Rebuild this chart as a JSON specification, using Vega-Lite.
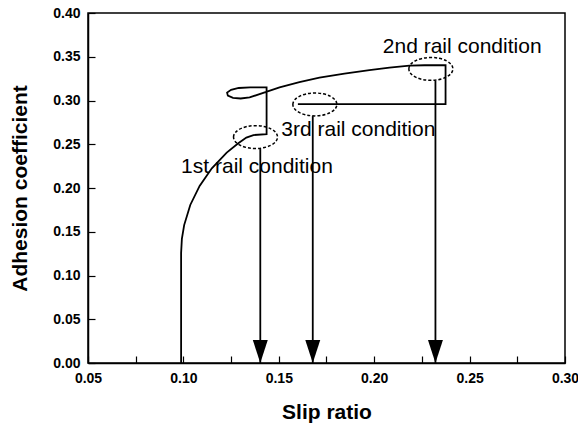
{
  "$schema": "https://vega.github.io/schema/vega-lite/v6.json",
  "autosize": "none",
  "padding": {"left": 88, "top": 13, "right": 13, "bottom": 63},
  "width": 477,
  "height": 350,
  "background": "white",
  "config": {
    "view": {"stroke": "black", "strokeWidth": 1.5},
    "font": "Liberation Sans",
    "axis": {
      "zindex": 1,
      "domainColor": "black",
      "domainWidth": 1.5,
      "ticks": true,
      "tickColor": "black",
      "tickWidth": 1.2,
      "tickSize": -7,
      "grid": false,
      "labelFont": "Liberation Sans",
      "labelFontWeight": "bold",
      "labelFontSize": 14,
      "labelColor": "black",
      "labelPadding": 15,
      "titleFont": "Liberation Sans",
      "titleFontWeight": "bold",
      "titleFontSize": 21,
      "titleColor": "black"
    }
  },
  "datasets": {
    "curve": [
      {"order": 1, "slip": 0.0988, "adh": 0.0},
      {"order": 2, "slip": 0.0988, "adh": 0.1258},
      {"order": 3, "slip": 0.0992, "adh": 0.1418},
      {"order": 4, "slip": 0.1004, "adh": 0.1576},
      {"order": 5, "slip": 0.1036, "adh": 0.1806},
      {"order": 6, "slip": 0.1085, "adh": 0.2024},
      {"order": 7, "slip": 0.1149, "adh": 0.2225},
      {"order": 8, "slip": 0.1227, "adh": 0.2404},
      {"order": 9, "slip": 0.1286, "adh": 0.2509},
      {"order": 10, "slip": 0.1330, "adh": 0.2576},
      {"order": 11, "slip": 0.1367, "adh": 0.2605},
      {"order": 12, "slip": 0.1436, "adh": 0.2616},
      {"order": 13, "slip": 0.1436, "adh": 0.3149},
      {"order": 14, "slip": 0.1350, "adh": 0.3150},
      {"order": 15, "slip": 0.1290, "adh": 0.3143},
      {"order": 16, "slip": 0.1250, "adh": 0.3122},
      {"order": 17, "slip": 0.1229, "adh": 0.3090},
      {"order": 18, "slip": 0.1233, "adh": 0.3055},
      {"order": 19, "slip": 0.1260, "adh": 0.3030},
      {"order": 20, "slip": 0.1300, "adh": 0.3023},
      {"order": 21, "slip": 0.1347, "adh": 0.3035},
      {"order": 22, "slip": 0.1434, "adh": 0.3099},
      {"order": 23, "slip": 0.1504, "adh": 0.3149},
      {"order": 24, "slip": 0.1608, "adh": 0.3209},
      {"order": 25, "slip": 0.1713, "adh": 0.3261},
      {"order": 26, "slip": 0.1844, "adh": 0.3306},
      {"order": 27, "slip": 0.1975, "adh": 0.3346},
      {"order": 28, "slip": 0.2080, "adh": 0.3375},
      {"order": 29, "slip": 0.2185, "adh": 0.3398},
      {"order": 30, "slip": 0.2264, "adh": 0.3403},
      {"order": 31, "slip": 0.2374, "adh": 0.3403},
      {"order": 32, "slip": 0.2374, "adh": 0.2958},
      {"order": 33, "slip": 0.1600, "adh": 0.2958}
    ],
    "arrows": [
      {"slip": 0.1403, "top": 0.2445, "tip": 0.0},
      {"slip": 0.1678, "top": 0.2822, "tip": 0.0},
      {"slip": 0.2321, "top": 0.3224, "tip": 0.0}
    ],
    "ellipses": [
      {"slip": 0.1378, "adh": 0.2582},
      {"slip": 0.2297, "adh": 0.3361},
      {"slip": 0.1689, "adh": 0.2955}
    ],
    "labels": [
      {"slip": 0.2045, "adh": 0.3548, "text": "2nd rail condition"},
      {"slip": 0.1513, "adh": 0.2597, "text": "3rd rail condition"},
      {"slip": 0.0988, "adh": 0.2175, "text": "1st rail condition"}
    ]
  },
  "layer": [
    {
      "data": {"name": "curve"},
      "mark": {"type": "line", "color": "black", "strokeWidth": 1.8, "interpolate": "linear"},
      "encoding": {
        "x": {
          "field": "slip", "type": "quantitative",
          "scale": {"domain": [0.05, 0.3], "nice": false, "zero": false},
          "axis": {
            "title": "Slip ratio",
            "values": [0.05, 0.075, 0.1, 0.125, 0.15, 0.175, 0.2, 0.225, 0.25, 0.275, 0.3],
            "labelExpr": "abs(datum.value*20 - round(datum.value*20)) < 0.001 ? format(datum.value, '.2f') : ''",
            "labelFlush": false,
            "titleY": 55,
            "titleBaseline": "alphabetic"
          }
        },
        "y": {
          "field": "adh", "type": "quantitative",
          "scale": {"domain": [0, 0.4], "nice": false},
          "axis": {
            "title": "Adhesion coefficient",
            "values": [0, 0.025, 0.05, 0.075, 0.1, 0.125, 0.15, 0.175, 0.2, 0.225, 0.25, 0.275, 0.3, 0.325, 0.35, 0.375, 0.4],
            "labelExpr": "abs(datum.value*20 - round(datum.value*20)) < 0.001 ? format(datum.value, '.2f') : ''",
            "labelFlush": false,
            "titleX": -68,
            "titleY": 175,
            "titleBaseline": "middle"
          }
        },
        "order": {"field": "order", "type": "quantitative"}
      }
    },
    {
      "data": {"name": "arrows"},
      "mark": {"type": "rule", "color": "black", "strokeWidth": 1.8},
      "encoding": {
        "x": {"field": "slip", "type": "quantitative"},
        "y": {"field": "top", "type": "quantitative"},
        "y2": {"field": "tip"}
      }
    },
    {
      "data": {"name": "arrows"},
      "mark": {"type": "point", "shape": "M-0.65,-2L0.65,-2L0,0Z", "filled": true, "color": "black", "opacity": 1, "size": 529},
      "encoding": {
        "x": {"field": "slip", "type": "quantitative"},
        "y": {"field": "tip", "type": "quantitative"}
      }
    },
    {
      "data": {"name": "ellipses"},
      "mark": {"type": "point", "shape": "M-1,0A1,0.52 0 1,1 1,0A1,0.52 0 1,1 -1,0Z", "filled": false, "color": "black", "opacity": 1, "strokeWidth": 1.5, "strokeDash": [3, 2], "size": 1936},
      "encoding": {
        "x": {"field": "slip", "type": "quantitative"},
        "y": {"field": "adh", "type": "quantitative"}
      }
    },
    {
      "data": {"name": "labels"},
      "mark": {"type": "text", "align": "left", "baseline": "alphabetic", "font": "Liberation Sans", "fontSize": 21, "color": "black"},
      "encoding": {
        "x": {"field": "slip", "type": "quantitative"},
        "y": {"field": "adh", "type": "quantitative"},
        "text": {"field": "text"}
      }
    }
  ]
}
